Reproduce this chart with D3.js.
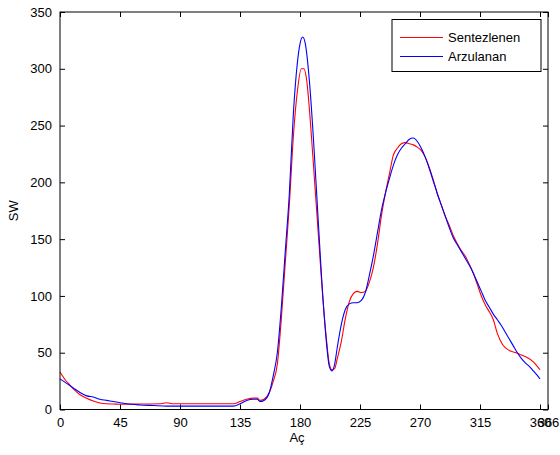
<!DOCTYPE html>
<html><head><meta charset="utf-8">
<script src="https://cdn.jsdelivr.net/npm/d3@7"></script>
<style>body{margin:0;background:#fff}svg{display:block;font-family:"Liberation Sans",Arial,sans-serif}</style>
</head><body><svg id="c" width="560" height="455"></svg>
<script>
const xTicks = [0,45,90,135,180,225,270,315,360,366];
const yTicks = [0,50,100,150,200,250,300,350];
const seriesNames = ["Sentezlenen","Arzulanan"];
const seriesColors = ["#ff0000","#0000ff"];
const redX = [0,4,7.5,11,15,20,25,30,35,40,45,60,75,80,85,90,105,120,130,135,140,145,148,150,153,157,160,163,166,169,172,175,178,181,183,185,188,191,194,197,200,202,204,206,208,211,214,217,220,223,226,229,232,235,238,241,244,247,250,253,256,259,262,265,268,271,274,277,280,283,286,289,292,295,298,301,304,307,310,313,316,319,322,325,328,332,337,342,346,350,355,358,360];
const redY = [33,26,21.5,17,13,10,7.5,5.7,5,4.8,4.6,4.8,5,6,5,5,5,5,5,7,9,10,10,8,9,15,25,40,80,130,180,240,280,300,300,290,250,200,150,100,60,40,35,36,45,60,80,95,102,104,103,104,112,125,145,170,190,207,224,230,234,235,234,233,231,228,222,213,202,190,180,170,162,153,146,140,135,128,120,110,100,92,86,79,67,57,52,50,48,46,42,38,35];
const blueX = [0,5,10,15,20,25,30,35,40,45,50,60,70,80,90,105,120,130,135,140,145,148,150,153,157,160,163,166,169,172,175,178,180,182,184,187,190,193,196,199,202,204,206,208,211,214,217,220,223,226,229,232,235,238,241,244,247,250,253,256,259,262,265,268,271,274,277,280,283,286,289,292,295,298,301,304,307,310,313,316,319,322,325,328,331,334,337,340,343,346,349,352,355,358,360];
const blueY = [27,23,19,15,12,11,9,8,7,6,5,4,3.5,3,3,3,3,3,5,8,9,9,7,8,15,30,50,90,140,190,260,305,322,328,322,290,240,180,120,70,38,34,40,55,75,88,93,94,94,96,103,118,135,155,175,190,203,215,224,230,234,238,239,236,230,222,212,201,190,180,170,160,151,145,139,133,127,120,112,104,96,90,84,79,74,68,62,56,50,45,41,38,34,30,27];

const svg = d3.select("#c");
const L=60,R=548,T=12,B=409.5;
const x = d3.scaleLinear().domain([0,366]).range([L,R]);
const y = d3.scaleLinear().domain([0,350]).range([B,T]);
const fs = 13;

svg.append("g").attr("transform",`translate(0,${B})`)
  .call(d3.axisBottom(x).tickValues(xTicks).tickSize(-5).tickPadding(8).tickFormat(d3.format("d")))
  .call(g=>{g.select(".domain").remove();g.selectAll("text").attr("font-size",fs).attr("font-family","Liberation Sans, Arial").attr("fill","#000");});
svg.append("g").attr("transform",`translate(0,${T})`)
  .call(d3.axisTop(x).tickValues(xTicks).tickSize(-5).tickFormat(""))
  .call(g=>g.select(".domain").remove());
svg.append("g").attr("transform",`translate(${L},0)`)
  .call(d3.axisLeft(y).tickValues(yTicks).tickSize(-5).tickPadding(8))
  .call(g=>{g.select(".domain").remove();g.selectAll("text").attr("font-size",fs).attr("font-family","Liberation Sans, Arial").attr("fill","#000");});
svg.append("g").attr("transform",`translate(${R},0)`)
  .call(d3.axisRight(y).tickValues(yTicks).tickSize(-5).tickFormat(""))
  .call(g=>g.select(".domain").remove());

const line = d3.line().x(d=>x(d[0])).y(d=>y(d[1])).curve(d3.curveMonotoneX);
const data = [d3.zip(redX,redY), d3.zip(blueX,blueY)];
svg.append("g").selectAll("path").data(data).join("path")
  .attr("d",line).attr("fill","none").attr("stroke",(d,i)=>seriesColors[i]).attr("stroke-width",1.1);

svg.append("rect").attr("x",L).attr("y",T).attr("width",R-L).attr("height",B-T)
  .attr("fill","none").attr("stroke","#000").attr("stroke-width",1);

svg.append("text").attr("x",(L+R)/2-7).attr("y",442).attr("text-anchor","middle").attr("font-size",fs).text("Aç");
svg.append("text").attr("transform",`translate(18,${(T+B)/2}) rotate(-90)`).attr("text-anchor","middle").attr("font-size",fs).text("SW");

const lg = svg.append("g");
lg.append("rect").attr("x",392).attr("y",19.5).attr("width",149).attr("height",52).attr("fill","#fff").attr("stroke","#000");
seriesNames.forEach((n,i)=>{
  const yy = 37.5 + i*19;
  lg.append("line").attr("x1",400).attr("x2",443).attr("y1",yy).attr("y2",yy).attr("stroke",seriesColors[i]).attr("stroke-width",1.1);
  lg.append("text").attr("x",448).attr("y",yy+4.5).attr("font-size",fs).text(n);
});
</script></body></html>
